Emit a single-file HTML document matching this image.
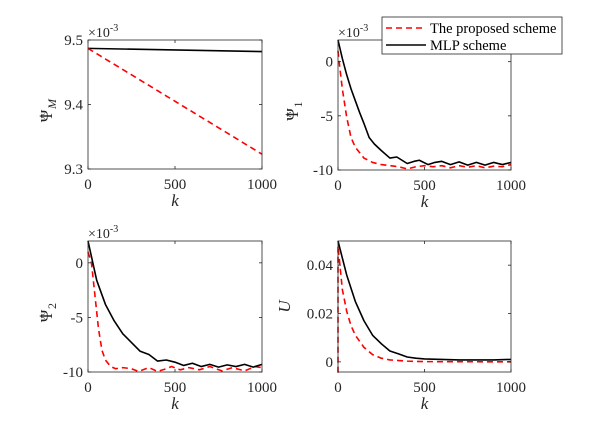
<!DOCTYPE html>
<html><head><meta charset="utf-8"><style>
html,body{margin:0;padding:0;background:#fff;}
svg{display:block;}
svg text{font-family:"Liberation Serif","DejaVu Serif",serif;}
</style></head><body>
<svg id="fig" width="614" height="421" viewBox="0 0 614 421" xmlns="http://www.w3.org/2000/svg" font-family="Liberation Serif, serif"></svg>
<script>
// ---- data ----
const psiMK = [0, 1000];
const psiMBlack = [9.487, 9.482];
const psiMRed = [9.487, 9.323];

const psi1BlackK = [0,25,50,75,100,125,150,180,210,250,300,340,370,400,440,470,520,560,600,650,700,750,800,850,900,950,1000];
const psi1Black = [2,0.3,-1.2,-2.5,-3.6,-4.7,-5.7,-7.0,-7.6,-8.2,-8.9,-8.8,-9.1,-9.4,-9.2,-9.1,-9.5,-9.3,-9.2,-9.5,-9.25,-9.55,-9.3,-9.55,-9.3,-9.5,-9.3];
const psi1RedK = [0,10,25,50,75,100,150,200,250,300,350,400,450,500,550,600,650,700,750,800,850,900,950,1000];
const psi1Red = [1,-0.5,-2.5,-5.1,-7.0,-7.9,-8.9,-9.3,-9.5,-9.6,-9.7,-9.9,-9.7,-9.6,-9.7,-9.6,-9.8,-9.6,-9.75,-9.6,-9.8,-9.65,-9.7,-9.5];

const psi2BlackK = [0,50,100,150,200,250,300,350,400,450,500,550,600,650,700,750,800,850,900,950,1000];
const psi2Black = [2,-1.6,-3.8,-5.3,-6.5,-7.3,-8.1,-8.4,-9.0,-8.9,-9.1,-9.4,-9.2,-9.5,-9.3,-9.55,-9.35,-9.5,-9.3,-9.55,-9.3];
const psi2RedK = [0,20,40,60,80,100,130,160,200,250,290,350,400,450,480,530,580,640,700,770,830,900,960,1000];
const psi2Red = [1,0,-3,-6,-8,-8.9,-9.5,-9.7,-9.6,-9.7,-9.95,-9.6,-9.95,-9.7,-9.5,-9.8,-9.6,-9.8,-9.5,-9.9,-9.6,-9.9,-9.5,-9.6];

const uBlackK = [0,50,100,150,200,250,300,350,400,450,500,600,700,800,900,1000];
const uBlack = [0.05,0.036,0.025,0.017,0.011,0.0075,0.0045,0.0033,0.002,0.0015,0.0012,0.001,0.0008,0.0008,0.0008,0.001];
const uRedK = [0,0,25,50,75,100,150,200,250,300,400,500,1000];
const uRed = [-0.0045,0.048,0.03,0.021,0.015,0.011,0.006,0.003,0.0015,0.0008,0.0003,0.0001,0];

const xTicks = [0,500,1000];

const NS = "http://www.w3.org/2000/svg";
const svg = document.getElementById('fig');
const FONT = '"Liberation Serif", "DejaVu Serif", serif';
function el(tag, attrs, parent){
  const e = document.createElementNS(NS, tag);
  for (const k in attrs) e.setAttribute(k, attrs[k]);
  if (tag === 'text') e.style.fontFamily = FONT;
  (parent||svg).appendChild(e);
  return e;
}

function panel(o){
  const g = el('g', {});
  
  
  const X = v => o.x0 + (v - 0) / 1000 * (o.x1 - o.x0);
  const Y = v => o.y1 - (v - o.ymin) / (o.ymax - o.ymin) * (o.y1 - o.y0);
  o.series.forEach(s => {
    const d = s.k.map((k,i) => (i?'L':'M') + X(k).toFixed(2) + ',' + Y(s.v[i]).toFixed(2)).join(' ');
    const p = el('path', {d:d, fill:'none', stroke:s.color, 'stroke-width':1.6, 'stroke-dasharray':s.dash||'none', 'stroke-linejoin':'round'}, g);
    
    
  });
  const fr = el('rect', {x:o.x0, y:o.y0, width:o.x1-o.x0, height:o.y1-o.y0, fill:'none', stroke:'#262626', 'stroke-width':0.8}, g);
  
  
  xTicks.forEach(t => {
    const x = X(t);
    el('line', {x1:x, x2:x, y1:o.y1, y2:o.y1-3, stroke:'#262626', 'stroke-width':0.8}, g);
    el('line', {x1:x, x2:x, y1:o.y0, y2:o.y0+3, stroke:'#262626', 'stroke-width':0.8}, g);
    const tx = el('text', {x:x, y:o.y1+20, 'font-size':15, 'text-anchor':'middle', fill:'#262626'}, g);
    tx.textContent = t;
    
    
  });
  o.yTicks.forEach((t,i) => {
    const y = Y(t);
    el('line', {x1:o.x0, x2:o.x0+3, y1:y, y2:y, stroke:'#262626', 'stroke-width':0.8}, g);
    el('line', {x1:o.x1, x2:o.x1-3, y1:y, y2:y, stroke:'#262626', 'stroke-width':0.8}, g);
    const ty = el('text', {x:o.x0-5, y:y+5, 'font-size':15, 'text-anchor':'end', fill:'#262626'}, g);
    ty.textContent = o.yLabels[i];
    
    
  });
  const xl = el('text', {x:(o.x0+o.x1)/2, y:o.y1+37, 'font-size':17, 'font-style':'italic', 'text-anchor':'middle', fill:'#262626'}, g);
  xl.textContent = 'k';
  
  
  const yg = el('g', {transform:`translate(${o.ylx},${(o.y0+o.y1)/2}) rotate(-90)`}, g);
  
  
  if (o.sub !== null){
    const w = o.subIt ? 11 : 7;
    const ps = el('text', {x:-w/2-6, y:0, 'font-size':17, 'text-anchor':'middle', fill:'#262626'}, yg);
    ps.textContent = 'Ψ';
    const hat = el('text', {x:-w/2-6, y:-5, 'font-size':12, 'text-anchor':'middle', fill:'#262626'}, yg);
    hat.textContent = '^';
    const sb = el('text', {x:-w/2+1, y:4, 'font-size':12, 'font-style':o.subIt?'italic':'normal', fill:'#262626'}, yg);
    sb.textContent = o.sub;
  } else {
    const u = el('text', {x:0, y:0, 'font-size':17, 'font-style':'italic', 'text-anchor':'middle', fill:'#262626'}, yg);
    u.textContent = 'U';
  }
  if (o.exp){
    const ex = el('text', {x:o.x0, y:o.y0-3, 'font-size':14, fill:'#262626'}, g);
    ex.innerHTML = '×10<tspan dy="-6" font-size="10">-3</tspan>';
    
    
  }
}

const red = '#ff0000', blk = '#000000', dash = '6,4';

panel({name:'panel-psi-m', x0:88, x1:262, y0:40, y1:169, ymin:9.3, ymax:9.5,
  yTicks:[9.3,9.4,9.5], yLabels:['9.3','9.4','9.5'], ylx:52, sub:'M', subIt:true, exp:true,
  series:[{name:'psi-m-mlp-line', k:psiMK, v:psiMBlack, color:blk},
          {name:'psi-m-proposed-line', k:psiMK, v:psiMRed, color:red, dash:dash}]});
panel({name:'panel-psi-1', x0:338, x1:511, y0:40, y1:170, ymin:-10, ymax:2,
  yTicks:[-10,-5,0], yLabels:['-10','-5','0'], ylx:298, sub:'1', subIt:false, exp:true,
  series:[{name:'psi-1-proposed-line', k:psi1RedK, v:psi1Red, color:red, dash:dash},
          {name:'psi-1-mlp-line', k:psi1BlackK, v:psi1Black, color:blk}]});
panel({name:'panel-psi-2', x0:88, x1:262, y0:241, y1:372, ymin:-10, ymax:2,
  yTicks:[-10,-5,0], yLabels:['-10','-5','0'], ylx:52, sub:'2', subIt:false, exp:true,
  series:[{name:'psi-2-proposed-line', k:psi2RedK, v:psi2Red, color:red, dash:dash},
          {name:'psi-2-mlp-line', k:psi2BlackK, v:psi2Black, color:blk}]});
panel({name:'panel-u', x0:338, x1:511, y0:241, y1:372, ymin:-0.0042, ymax:0.05,
  yTicks:[0,0.02,0.04], yLabels:['0','0.02','0.04'], ylx:290, sub:null, exp:false,
  series:[{name:'u-proposed-line', k:uRedK, v:uRed, color:red, dash:dash},
          {name:'u-mlp-line', k:uBlackK, v:uBlack, color:blk}]});

const lg = el('g', {});


el('rect', {x:382, y:17, width:180, height:37, fill:'#fff', stroke:'#262626', 'stroke-width':0.8}, lg);
el('line', {x1:386, x2:426, y1:28, y2:28, stroke:red, 'stroke-width':1.6, 'stroke-dasharray':dash}, lg);
el('line', {x1:386, x2:426, y1:45, y2:45, stroke:blk, 'stroke-width':1.6}, lg);
const l1 = el('text', {x:430, y:33, 'font-size':14.5, fill:'#000'}, lg);
l1.textContent = 'The proposed scheme';


const l2 = el('text', {x:430, y:50, 'font-size':14.5, fill:'#000'}, lg);
l2.textContent = 'MLP scheme';


</script>
</body></html>
